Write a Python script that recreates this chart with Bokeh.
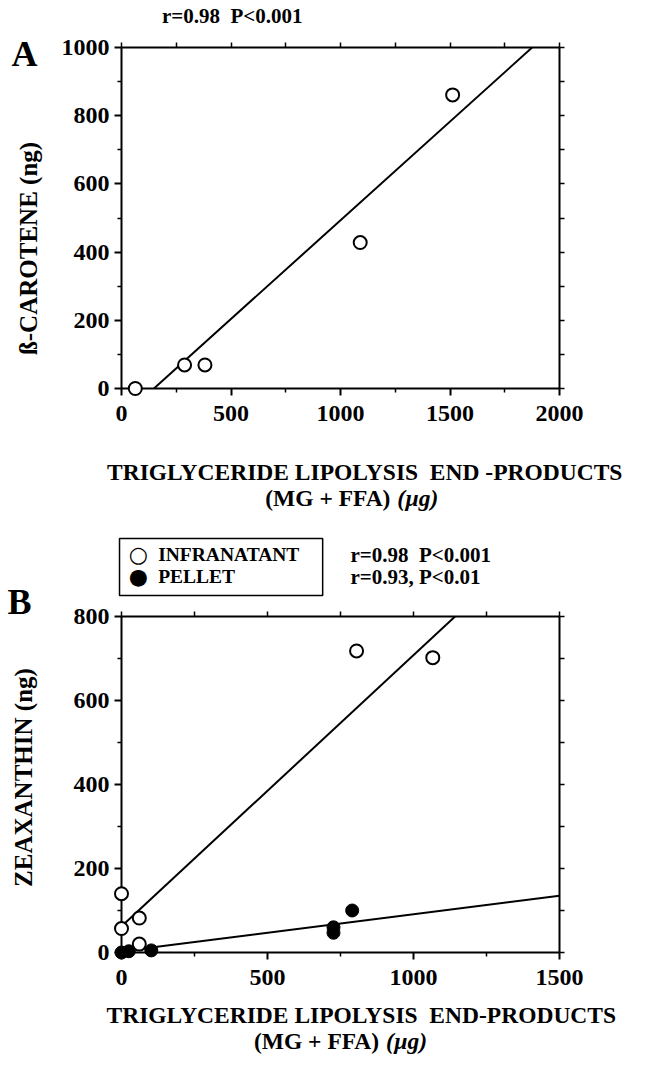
from bokeh.plotting import figure
from bokeh.models import Range1d, LinearAxis, FixedTicker
from bokeh.core.properties import value
from bokeh.layouts import column
from bokeh.embed import file_html
from bokeh.resources import INLINE
import math

# ---------------- data ----------------
# Panel A: beta-carotene (ng) vs lipolysis end-products (ug)
a_x = [63, 288, 381, 1090, 1512]
a_y = [0, 69, 69, 428, 861]
a_fit = (0.579, -85.7)          # slope, intercept of the drawn regression line
a_fit_xrange = [148, 1875]

# Panel B: zeaxanthin (ng)
b_inf_x = [0, 0, 61, 61, 805, 1066]
b_inf_y = [140, 57, 82, 20, 718, 702]
b_pel_x = [0, 25, 102, 726, 726, 790]
b_pel_y = [0, 3, 5, 47, 60, 100]
b_inf_fit = (0.646, 62.0)
b_inf_fit_xrange = [5, 1150]
b_pel_fit = (0.088, 3.0)
b_pel_fit_xrange = [0, 1500]

a_xticks = [0, 500, 1000, 1500, 2000]
a_yticks = [0, 200, 400, 600, 800, 1000]
b_xticks = [0, 500, 1000, 1500]
b_yticks = [0, 200, 400, 600, 800]

NB2 = " \u00a0"
a_stats = "r=0.98" + NB2 + "P<0.001"
b_stats = ["r=0.98" + NB2 + "P<0.001", "r=0.93, P<0.01"]
legend_labels = ["INFRANATANT", "PELLET"]
x_title_a = "TRIGLYCERIDE LIPOLYSIS" + NB2 + "END -PRODUCTS"
x_title_b = "TRIGLYCERIDE LIPOLYSIS" + NB2 + "END-PRODUCTS"

FONT = "Liberation Serif"
W = 639
PAGE_MARGIN = 8


def style_axis(ax, vertical=False):
    ax.axis_line_color = "black"
    ax.axis_line_width = 2
    ax.major_tick_line_color = "black"
    ax.major_tick_line_width = 2
    ax.minor_tick_line_color = "black"
    ax.minor_tick_line_width = 1.5
    ax.major_tick_out = 7
    ax.major_tick_in = 0
    ax.minor_tick_out = 4
    ax.minor_tick_in = 0
    ax.major_label_text_font = FONT
    ax.major_label_text_font_style = "bold"
    ax.major_label_text_color = "black"
    ax.major_label_text_font_size = "24px"
    ax.major_label_standoff = 5 if vertical else 10


def half_steps(major):
    step = major[1] - major[0]
    return [m + step / 2 for m in major[:-1]]


def mirror_axis(major):
    # top / right frame edges: tick marks only, no labels
    ticks = sorted(major + half_steps(major))
    ax = LinearAxis(ticker=FixedTicker(ticks=[], minor_ticks=ticks))
    ax.axis_line_color = "black"
    ax.axis_line_width = 2
    ax.minor_tick_line_color = "black"
    ax.minor_tick_line_width = 1.5
    ax.minor_tick_out = 5
    ax.minor_tick_in = 0
    ax.major_tick_line_color = None
    return ax


class Panel:
    def __init__(self, top_page, height, xr, yr, left, right, top, bottom, xt, yt):
        self.p = figure(width=W, height=height, x_range=Range1d(*xr), y_range=Range1d(*yr),
                        output_backend="svg", toolbar_location=None,
                        min_border_left=left, min_border_right=right,
                        min_border_top=top, min_border_bottom=bottom)
        p = self.p
        p.grid.visible = False
        p.outline_line_color = None
        p.xaxis.ticker = FixedTicker(ticks=xt, minor_ticks=half_steps(xt))
        p.yaxis.ticker = FixedTicker(ticks=yt, minor_ticks=half_steps(yt))
        style_axis(p.xaxis[0])
        style_axis(p.yaxis[0], vertical=True)
        p.add_layout(mirror_axis(xt), "above")
        p.add_layout(mirror_axis(yt), "right")
        # frame geometry in page pixels (used only to place annotation texts)
        self.fl = PAGE_MARGIN + left
        self.fw = W - left - right
        self.ft = top_page + top
        self.fh = height - top - bottom
        self.xr, self.yr = xr, yr

    def dx(self, px):
        return self.xr[0] + (px - self.fl) * (self.xr[1] - self.xr[0]) / self.fw

    def dy(self, py):
        return self.yr[0] + (self.ft + self.fh - py) * (self.yr[1] - self.yr[0]) / self.fh

    def text(self, px, py, s, size, align="center", angle=0, style="bold", font=FONT):
        self.p.text(x=[self.dx(px)], y=[self.dy(py)], text=[s], angle=angle,
                    text_font=value(font), text_font_style=style, text_font_size=value(size),
                    text_color="black", text_align=align, text_baseline="middle",
                    level="overlay")


# ---------------- panel A ----------------
A = Panel(PAGE_MARGIN, 520, (0, 2000), (0, 1000), 116, 80, 47, 132, a_xticks, a_yticks)
pA = A.p
pA.line(a_fit_xrange, [a_fit[0] * v + a_fit[1] for v in a_fit_xrange],
        line_color="black", line_width=2)
pA.scatter(a_x, a_y, marker="circle", size=13, fill_color="white",
           line_color="black", line_width=2, level="overlay")

A.text(26, 61, "A", "36px")
A.text(236, 23, a_stats, "21px")
A.text(30, 256, "\u00df-CAROTENE (ng)", "25px", angle=math.pi / 2)
A.text(370, 479, x_title_a, "23.5px")
A.text(396, 505, "(MG + FFA)", "23.5px", align="right")
A.text(403, 505, "(\u00b5g)", "23.5px", align="left", style="bold italic")

# ---------------- panel B ----------------
B_TOP = PAGE_MARGIN + 520
B = Panel(B_TOP, 534, (0, 1500), (0, 800), 121, 76, 96, 102, b_xticks, b_yticks)
pB = B.p
for (m, c), xr in ((b_inf_fit, b_inf_fit_xrange), (b_pel_fit, b_pel_fit_xrange)):
    pB.line(xr, [m * v + c for v in xr], line_color="black", line_width=2)
pB.scatter(b_inf_x, b_inf_y, marker="circle", size=13, fill_color="white",
           line_color="black", line_width=2, level="overlay")
pB.scatter(b_pel_x, b_pel_y, marker="circle", size=13, fill_color="black",
           line_color="black", line_width=1, level="overlay")

# legend box (page pixel positions converted to data space)
pB.quad(left=[B.dx(127)], right=[B.dx(332)], top=[B.dy(546)], bottom=[B.dy(603)],
        fill_color="white", line_color="black", line_width=1.5, level="overlay")
B.text(146, 562, "\u25cb", "22px", style="bold", font="DejaVu Sans")
B.text(146, 584, "\u25cf", "22px", style="bold", font="DejaVu Sans")
B.text(166, 562, legend_labels[0], "19.5px", align="left")
B.text(166, 584, legend_labels[1], "19.5px", align="left")

B.text(26, 609, "B", "36px")
B.text(360, 562, b_stats[0], "21px", align="left")
B.text(360, 584, b_stats[1], "21px", align="left")
B.text(30, 785, "ZEAXANTHIN (ng)", "25px", angle=math.pi / 2)
B.text(371, 1022, x_title_b, "23.5px")
B.text(389, 1048, "(MG + FFA)", "23.5px", align="right")
B.text(396, 1048, "(\u00b5g)", "23.5px", align="left", style="bold italic")

page = column(pA, pB, spacing=0)
open("out.html", "w").write(file_html(page, INLINE))
